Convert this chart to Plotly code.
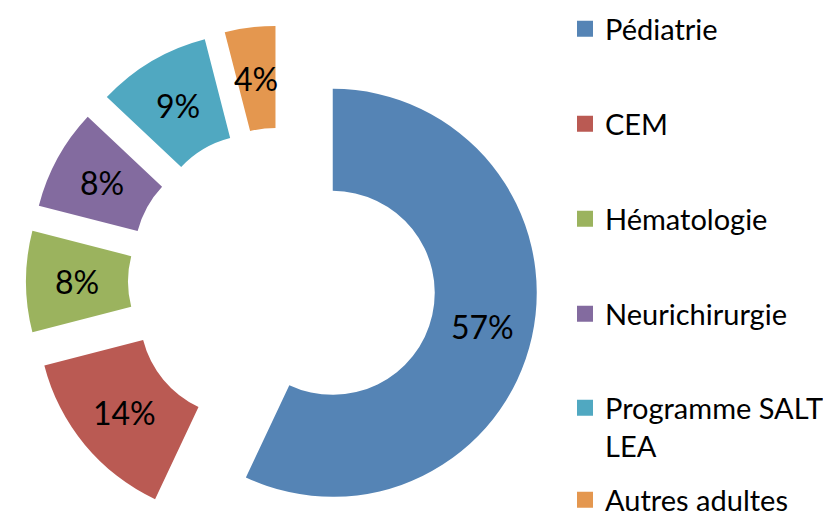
import math
import plotly.graph_objects as go

# ---- data ----
categories = ["Pédiatrie", "CEM", "Hématologie", "Neurichirurgie", "Programme SALT<br>LEA", "Autres adultes"]
shares = [57, 14, 8, 8, 9, 4]
colors = ["#5584B5", "#BA5A53", "#9BB35E", "#836B9F", "#50A8C1", "#E4974F"]

# ---- page geometry (screen pixels) ----
# the figure fills the page body, which has an 8px default margin
OFF = 8.0
FW, FH = 831 - 2 * OFF, 527 - 2 * OFF

def px(sx):
    return (sx - OFF) / FW

def py(sy):
    return 1 - (sy - OFF) / FH

CX, CY = 282.0, 281.5     # common centre of the exploded doughnut
R = 204.0                 # outer radius
HOLE = 0.5
EXPLODE = 52.0            # explosion distance
FONT = "Lato, 'Open Sans', sans-serif"

fig = go.Figure()
total = sum(shares)
cum = 0.0
annotations = []
for i, (lab, v, col) in enumerate(zip(categories, shares, colors)):
    mid = (cum + v / 2) / total * 2 * math.pi
    cum += v
    cx = CX + EXPLODE * math.sin(mid)
    cy = CY - EXPLODE * math.cos(mid)
    dx = [max(0.0, px(cx - R)), min(1.0, px(cx + R))]
    dy = [max(0.0, py(cy + R)), min(1.0, py(cy - R))]
    slice_cols = [c if j == i else "rgba(0,0,0,0)" for j, c in enumerate(colors)]
    fig.add_trace(go.Pie(
        labels=categories, values=shares, sort=False, direction="clockwise", rotation=0,
        hole=HOLE, marker=dict(colors=slice_cols, line=dict(width=0)),
        textinfo="none", hoverinfo="skip", showlegend=False,
        domain=dict(x=dx, y=dy),
    ))
    rl = R * (1 + HOLE) / 2
    lx = cx + rl * math.sin(mid)
    ly = cy - rl * math.cos(mid)
    annotations.append(dict(
        x=px(lx), y=py(ly), xref="paper", yref="paper", showarrow=False,
        text=f"{v}%", font=dict(family=FONT, size=32, color="black"),
        xanchor="center", yanchor="middle",
    ))

# legend entries (one legend per row to reproduce the wide spacing)
row_centres = [29, 124, 219, 314, 427, 500]
layout_legends = {}
for i, (lab, col) in enumerate(zip(categories, colors)):
    lid = "legend" if i == 0 else f"legend{i+1}"
    fig.add_trace(go.Scatter(
        x=[None], y=[None], mode="markers", name=lab, legend=lid,
        marker=dict(symbol="square", size=17, color=col), showlegend=True,
    ))
    layout_legends[lid] = dict(
        x=px(565), xanchor="left", y=py(row_centres[i]), yanchor="middle",
        font=dict(family=FONT, size=29, color="black"), bgcolor="rgba(0,0,0,0)",
        valign="top", borderwidth=0, itemsizing="trace",
    )

fig.update_layout(
    margin=dict(l=0, r=0, t=0, b=0, autoexpand=False),
    paper_bgcolor="white", plot_bgcolor="white",
    xaxis=dict(visible=False), yaxis=dict(visible=False),
    annotations=annotations,
    **layout_legends,
)
fig.write_html("out.html")
